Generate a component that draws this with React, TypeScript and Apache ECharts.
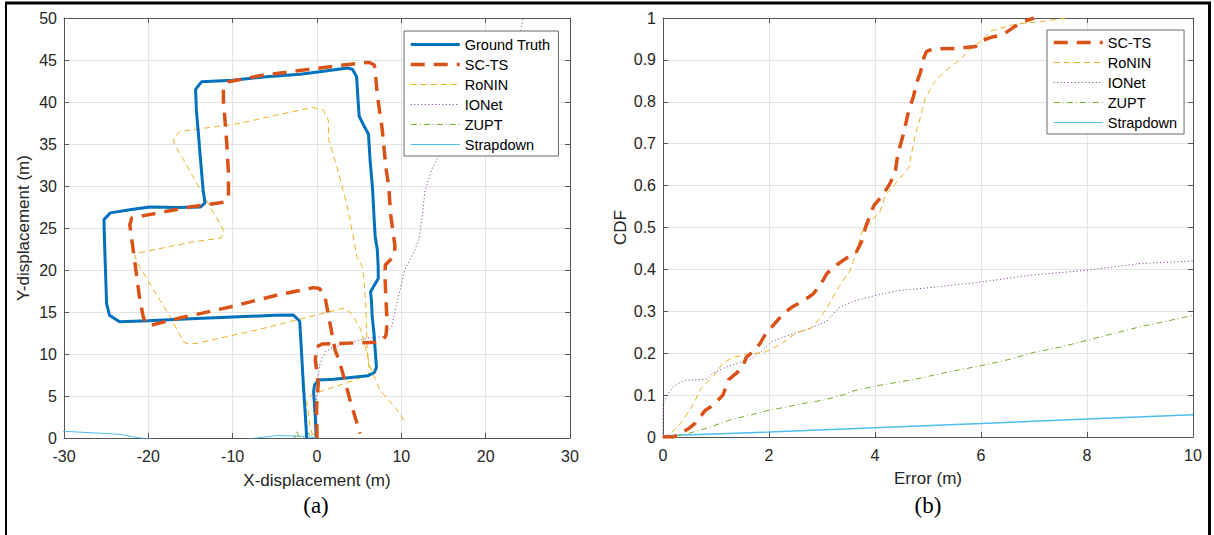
import React, { useEffect, useRef } from "react";
import * as echarts from "echarts";

type P = [number, number];

// ---------- Panel (a): trajectories (X, Y in m) ----------
const groundTruth: P[] = [
  [-0.1, 0], [-0.2, 2.5], [-0.4, 5.5], [-0.3, 6.3], [0.2, 6.9], [2, 7.0], [4, 7.2], [6, 7.4], [6.8, 7.8],
  [7.05, 8.4], [6.9, 10.5], [6.75, 12.5], [6.55, 14.4], [6.45, 16.4], [6.35, 17.4], [6.8, 18.2], [7.27, 19.0],
  [7.25, 20.5], [7.15, 22.4], [6.9, 24.0], [6.75, 26.5], [6.6, 29.5], [6.3, 33], [6.1, 36.2], [5.5, 37.3],
  [5.0, 38.3], [4.85, 40.5], [4.7, 43.0], [4.2, 43.9], [3.6, 44.05], [1, 43.7], [-2, 43.3], [-6, 43.0],
  [-10, 42.6], [-13.7, 42.4], [-14.4, 41.5], [-14.3, 39], [-14.07, 36.3], [-13.8, 33], [-13.5, 29.5],
  [-13.28, 28.0], [-13.8, 27.5], [-16.5, 27.45], [-19.8, 27.5], [-22, 27.2], [-24.5, 26.8], [-25.26, 26.0],
  [-25.2, 23.5], [-25.1, 20.5], [-24.95, 16.0], [-24.6, 14.6], [-23.4, 13.85], [-20, 13.95], [-15, 14.2],
  [-10, 14.4], [-5, 14.6], [-2.8, 14.65], [-2.05, 13.9], [-1.85, 10.5], [-1.6, 6], [-1.42, 3.3], [-1.22, 0],
];

const scTsTraj: P[] = [
  [0, 0], [-0.05, 3.7], [0.15, 6.5], [-0.2, 9.3], [-0.1, 10.8], [0.6, 11.2], [4, 11.3], [7.2, 11.4],
  [7.9, 11.7], [8.2, 12.3], [8.3, 14.0], [8.15, 17], [8.06, 19.5], [8.1, 20.6], [9.1, 21.6], [9.25, 22.8],
  [8.75, 26.5], [8.5, 30], [8.2, 32], [7.7, 37.0], [7.2, 40.5], [6.9, 43.6], [6.8, 44.4], [6.2, 44.7],
  [5.9, 44.7], [3.1, 44.4], [-1.6, 43.8], [-6.4, 43.2], [-10.5, 42.4], [-11.1, 41.8], [-11.1, 40.2],
  [-10.7, 35.1], [-10.5, 31.5], [-10.5, 28.7], [-10.9, 28.1], [-15.1, 27.5], [-20.4, 26.5], [-21.97, 26.2],
  [-22.2, 25.4], [-21.8, 22.4], [-21.0, 16.4], [-20.6, 14.4], [-20.2, 13.5], [-19.6, 13.45], [-16.4, 14.25],
  [-10.3, 15.6], [-4.8, 17.0], [-0.44, 17.9], [0.3, 17.8], [0.95, 16.8], [1.54, 13.65], [2.14, 10.5],
  [2.73, 8.9], [3.92, 4.5], [5.1, 0.55],
];

const roninTraj: P[] = [
  [-0.5, 0.3], [-0.83, 1.35], [-1.22, 4.3], [-0.7, 5.1], [-0.24, 5.3], [3, 6.4], [6.09, 7.5], [6.2, 8],
  [6.0, 10], [5.9, 11.6], [5.8, 15.6], [5.6, 18.4], [5.4, 20.3], [4.71, 21.6], [4.3, 24], [3.52, 27.9],
  [2.34, 32.3], [1.4, 35.5], [1.34, 37.86], [0.75, 39.05], [-0.44, 39.35], [-5, 38.4], [-9.13, 37.46],
  [-14, 36.8], [-16.2, 36.5], [-17.04, 35.7], [-16.9, 35.0], [-13.5, 29], [-11.1, 24.76], [-11.4, 23.8],
  [-15, 23.3], [-21.3, 22.0], [-21.6, 21.7], [-21.3, 20.8], [-17.43, 14.44], [-15.8, 11.4], [-15.2, 11.2],
  [-14.26, 11.27], [-7.15, 12.86], [3.12, 15.44], [4.11, 14.84], [5.3, 12.65], [6.29, 8.5], [7.47, 5.7],
  [9.84, 2.94], [10.3, 2.06],
];

const ionetTraj: P[] = [
  [0, 0], [-0.24, 3.7], [-0.03, 4.9], [0.1, 7.0], [0.36, 8.9], [1.0, 10.3], [2.1, 10.9], [4, 11.4],
  [6.05, 11.9], [7.8, 12.06], [8.86, 13.25], [9.45, 16.0], [10.0, 18.3], [10.4, 20], [11.6, 22.4],
  [12.1, 23.7], [12.5, 26.5], [12.8, 29.4], [13.7, 32.2], [14.9, 34.3], [17, 37.5], [19.5, 41], [22, 44.5],
  [24, 47.8], [24.4, 49.7], [24.6, 52],
];

const zuptTraj: P[] = [
  [0, 0], [-0.4, 0.6], [-0.8, 0.1], [-1.0, 0.6], [-1.6, 0.1], [-2.2, 0.2], [-2.4, 0.9], [-2.6, 0.1], [-2.8, 0],
];

const strapdownTraj: P[] = [
  [0, 0], [-1.7, 0.2], [-4.7, 0.3], [-7.2, 0], [-10, -0.4], [-15, -0.6], [-21, 0], [-23.5, 0.45],
  [-30, 0.8], [-31, 0.85],
];

// ---------- Panel (b): CDF of error ----------
const scTsCdf: P[] = [
  [0, 0], [0.2, 0], [0.47, 0.019], [0.61, 0.033], [0.8, 0.064], [0.95, 0.076], [1.13, 0.1], [1.24, 0.137],
  [1.39, 0.153], [1.5, 0.166], [1.57, 0.19], [1.72, 0.206], [1.83, 0.223], [1.94, 0.247], [2.09, 0.268],
  [2.28, 0.296], [2.46, 0.312], [2.65, 0.325], [2.83, 0.341], [2.98, 0.365], [3.09, 0.39], [3.27, 0.41],
  [3.46, 0.427], [3.64, 0.439], [3.75, 0.467], [3.83, 0.504], [3.98, 0.553], [4.12, 0.573], [4.27, 0.602],
  [4.38, 0.63], [4.43, 0.675], [4.53, 0.72], [4.64, 0.781], [4.72, 0.81], [4.79, 0.847], [4.86, 0.871],
  [4.92, 0.904], [4.97, 0.92], [5.08, 0.926], [5.53, 0.927], [5.9, 0.932], [6.0, 0.945], [6.19, 0.954],
  [6.41, 0.96], [6.64, 0.98], [6.78, 0.99], [7.0, 1.0],
];

const roninCdf: P[] = [
  [0, 0], [0.13, 0.0065], [0.35, 0.035], [0.58, 0.08], [0.72, 0.117], [0.95, 0.145], [1.13, 0.176],
  [1.32, 0.19], [1.61, 0.198], [1.91, 0.202], [2.05, 0.21], [2.28, 0.227], [2.5, 0.247], [2.79, 0.26],
  [2.94, 0.28], [3.09, 0.308], [3.31, 0.357], [3.53, 0.398], [3.64, 0.439], [3.75, 0.488], [3.9, 0.512],
  [4.09, 0.537], [4.2, 0.577], [4.42, 0.61], [4.64, 0.643], [4.75, 0.716], [4.86, 0.765], [4.94, 0.806],
  [5.12, 0.847], [5.34, 0.875], [5.6, 0.9], [5.82, 0.928], [6.0, 0.945], [6.19, 0.969], [6.41, 0.977],
  [6.64, 0.985], [6.93, 0.989], [7.23, 0.993], [7.6, 1.0],
];

const ionetCdf: P[] = [
  [0, 0], [0, 0.08], [0.1, 0.104], [0.2, 0.12], [0.39, 0.135], [0.72, 0.137], [0.84, 0.139], [0.95, 0.153],
  [1.17, 0.166], [1.46, 0.178], [1.65, 0.186], [1.83, 0.202], [2.05, 0.227], [2.28, 0.239], [2.57, 0.251],
  [2.79, 0.26], [3.09, 0.276], [3.31, 0.308], [3.61, 0.325], [3.98, 0.337], [4.42, 0.349], [5.08, 0.357],
  [6.0, 0.37], [6.93, 0.386], [8.0, 0.398], [9.0, 0.414], [10, 0.42],
];

const zuptCdf: P[] = [
  [0, 0], [0.43, 0.0065], [0.87, 0.023], [1.32, 0.043], [1.61, 0.051], [2.0, 0.064], [2.35, 0.072],
  [2.65, 0.08], [3.02, 0.088], [3.39, 0.1], [3.53, 0.108], [3.98, 0.121], [4.72, 0.137], [5.45, 0.157],
  [6.0, 0.17], [6.56, 0.186], [7.0, 0.202], [7.52, 0.215], [8.0, 0.231], [9.0, 0.263], [10, 0.29],
];

const strapdownCdf: P[] = [
  [0, 0.003], [2, 0.012], [4, 0.022], [6, 0.032], [8, 0.043], [10, 0.053],
];

const legendA = ["Ground Truth", "SC-TS", "RoNIN", "IONet", "ZUPT", "Strapdown"];
const legendB = ["SC-TS", "RoNIN", "IONet", "ZUPT", "Strapdown"];

const COL = {
  gt: "#0072BD",
  sc: "#D95319",
  ronin: "#EDB120",
  ionet: "#7E2F8E",
  zupt: "#77AC30",
  strap: "#4DBEEE",
};

const FONT = "'Liberation Sans', Arial, Helvetica, sans-serif";
const AX = "#555555";
const GRIDC = "#e4e4e4";
const TXT = "#262626";

function mainX(grid: number, min: number, max: number, interval: number, name: string, gap: number) {
  return {
    type: "value", gridIndex: grid, min, max, interval, position: "bottom",
    name, nameLocation: "middle", nameGap: gap,
    nameTextStyle: { fontSize: 17, color: TXT, fontFamily: FONT },
    axisLine: { show: true, onZero: false, lineStyle: { color: AX, width: 1 } },
    axisTick: { show: true, inside: true, length: 5, lineStyle: { color: AX } },
    axisLabel: { fontSize: 16, color: TXT, fontFamily: FONT, margin: 10 },
    splitLine: { show: true, lineStyle: { color: GRIDC, width: 1 } },
  };
}
function mainY(grid: number, min: number, max: number, interval: number, name: string, gap: number) {
  return {
    type: "value", gridIndex: grid, min, max, interval, position: "left",
    name, nameLocation: "middle", nameGap: gap,
    nameTextStyle: { fontSize: 17, color: TXT, fontFamily: FONT },
    axisLine: { show: true, onZero: false, lineStyle: { color: AX, width: 1 } },
    axisTick: { show: true, inside: true, length: 5, lineStyle: { color: AX } },
    axisLabel: { fontSize: 16, color: TXT, fontFamily: FONT, margin: 7 },
    splitLine: { show: true, lineStyle: { color: GRIDC, width: 1 } },
  };
}
function boxAxis(grid: number, min: number, max: number, interval: number, position: string) {
  return {
    type: "value", gridIndex: grid, min, max, interval, position,
    axisLine: { show: true, onZero: false, lineStyle: { color: AX, width: 1 } },
    axisTick: { show: true, inside: true, length: 5, lineStyle: { color: AX } },
    axisLabel: { show: false },
    splitLine: { show: false },
  };
}

function line(name: string, data: P[], xi: number, yi: number, color: string, width: number, type: any, z = 2) {
  return {
    type: "line", name, data, xAxisIndex: xi, yAxisIndex: yi, symbol: "none", showSymbol: false,
    lineStyle: { color, width, type }, itemStyle: { color }, z, clip: true, silent: true,
  };
}

function legend(data: string[], left: number, top: number, padding: number[]) {
  return {
    show: true, orient: "vertical", left, top, padding, data,
    itemWidth: 49, itemHeight: 14, itemGap: 5,
    backgroundColor: "#ffffff", borderColor: "#6a6a6a", borderWidth: 1, borderRadius: 0,
    textStyle: { fontSize: 14.5, color: "#000", fontFamily: FONT },
    itemStyle: { opacity: 0 },
    lineStyle: { width: "inherit" },
    selectedMode: false,
  };
}

export default function App() {
  const ref = useRef<HTMLDivElement>(null);
  useEffect(() => {
    if (!ref.current) return;
    const chart = echarts.init(ref.current, null, { renderer: "svg" });
    const option: any = {
      animation: false,
      backgroundColor: "#ffffff",
      grid: [
        { left: 64, top: 18, width: 506, height: 420 },
        { left: 663, top: 18, width: 530, height: 419 },
      ],
      xAxis: [
        mainX(0, -30, 30, 10, "X-displacement (m)", 34),
        boxAxis(0, -30, 30, 10, "top"),
        mainX(1, 0, 10, 2, "Error (m)", 33),
        boxAxis(1, 0, 10, 2, "top"),
      ],
      yAxis: [
        mainY(0, 0, 50, 5, "Y-displacement (m)", 32),
        boxAxis(0, 0, 50, 5, "right"),
        mainY(1, 0, 1, 0.1, "CDF", 34),
        boxAxis(1, 0, 1, 0.1, "right"),
      ],
      legend: [
        legend(legendA, 404, 31, [6, 8, 4, 5]),
        legend(legendB, 1047, 30, [5, 7, 4, 5]),
      ],
      series: [
        line("Strapdown", strapdownTraj, 0, 0, COL.strap, 1, "solid"),
        line("ZUPT", zuptTraj, 0, 0, COL.zupt, 1, [6, 3, 1, 3]),
        line("IONet", ionetTraj, 0, 0, COL.ionet, 1, [1, 2.5]),
        line("RoNIN", roninTraj, 0, 0, COL.ronin, 1, [6, 4]),
        line("SC-TS", scTsTraj, 0, 0, COL.sc, 3.5, [14, 9], 3),
        line("Ground Truth", groundTruth, 0, 0, COL.gt, 3, "solid", 2),
        line("Strapdown", strapdownCdf, 2, 2, COL.strap, 1.5, "solid"),
        line("ZUPT", zuptCdf, 2, 2, COL.zupt, 1, [6, 3, 1, 3]),
        line("IONet", ionetCdf, 2, 2, COL.ionet, 1, [1, 2.5]),
        line("RoNIN", roninCdf, 2, 2, COL.ronin, 1, [6, 4]),
        line("SC-TS", scTsCdf, 2, 2, COL.sc, 3.5, [14, 9], 3),
      ],
      graphic: [
        { type: "line", shape: { x1: 5, y1: 3, x2: 1211, y2: 3 }, style: { stroke: "#000", lineWidth: 3 } },
        { type: "line", shape: { x1: 6, y1: 2, x2: 6, y2: 535 }, style: { stroke: "#000", lineWidth: 2 } },
        { type: "line", shape: { x1: 1209.5, y1: 2, x2: 1209.5, y2: 535 }, style: { stroke: "#000", lineWidth: 3 } },
        {
          type: "text", x: 316, y: 505,
          style: { text: "(a)", font: "23px 'Liberation Serif', 'Times New Roman', serif", fill: "#000", textAlign: "center", textVerticalAlign: "middle" },
        },
        {
          type: "text", x: 928, y: 505,
          style: { text: "(b)", font: "23px 'Liberation Serif', 'Times New Roman', serif", fill: "#000", textAlign: "center", textVerticalAlign: "middle" },
        },
      ],
    };
    chart.setOption(option);
    return () => chart.dispose();
  }, []);
  return (
    <div
      ref={ref}
      style={{ position: "absolute", left: 0, top: 0, width: 1214, height: 535, background: "#fff" }}
    />
  );
}
